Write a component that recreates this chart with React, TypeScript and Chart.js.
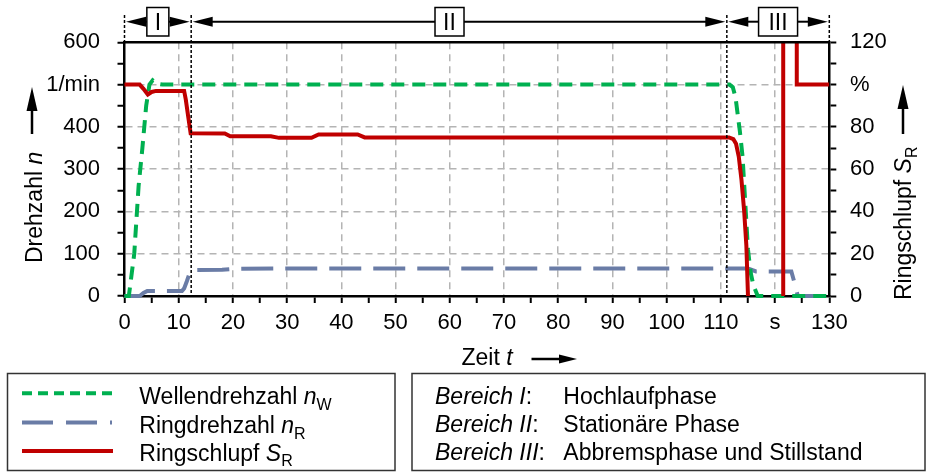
import { useEffect, useRef } from 'react';
import { Chart, registerables } from 'chart.js';

Chart.register(...registerables);

const FONT = "'Liberation Sans', Arial, sans-serif";

// ---- data ----
const greenT = [0, 0.8, 1.8, 2.6, 3.3, 4.0, 4.6, 5.2, 6.0, 7.0, 111.6, 112.2, 112.7, 113.1, 113.5, 114.0, 114.5, 115.0, 115.5, 116.0, 116.8, 130];
const greenV = [0, 0, 100, 260, 350, 450, 500, 510, 502, 500, 500, 494, 470, 430, 390, 330, 220, 110, 55, 25, 0, 0];

const blueT = [0, 2.8, 3.5, 4.2, 10.6, 11.0, 11.5, 11.9, 12.3, 18, 20, 30, 115, 116.5, 123.0, 123.5, 124.2, 130];
const blueV = [0, 0, 7, 12, 12, 18, 35, 50, 61, 62, 64, 65, 65, 58, 58, 35, 0, 0];

const redT = [0, 2.8, 3.5, 4.3, 5.0, 5.8, 11.0, 11.3, 11.8, 12.2, 18.5, 19.5, 27.0, 28.5, 34.5, 35.8, 43.0, 44.3, 111.5, 112.3, 112.8, 113.3, 113.8, 114.3, 114.7, 115.0, NaN, 121.5, 121.5, 124.0, 124.0, 130];
const redV = [100, 100, 98, 95.3, 96.5, 97, 97, 93, 84, 77, 76.9, 75.6, 75.6, 74.8, 74.8, 76.4, 76.4, 75, 75, 74.2, 72, 66, 55, 40, 24, 0, NaN, 0, 200, 200, 100, 100];

const regionBounds = [0, 12.3, 111.1, 130];
const regionLabels = ['I', 'II', 'III'];

const legendSeries = [
  { name: 'Wellendrehzahl ', sym: 'n', sub: 'W' },
  { name: 'Ringdrehzahl ', sym: 'n', sub: 'R' },
  { name: 'Ringschlupf ', sym: 'S', sub: 'R' },
];
const legendRegions = [
  { tag: 'Bereich I', text: 'Hochlaufphase' },
  { tag: 'Bereich II', text: 'Stationäre Phase' },
  { tag: 'Bereich III', text: 'Abbremsphase und Stillstand' },
];

const GREEN = '#00b050';
const BLUE = '#6a7ca6';
const RED = '#c00000';
const GRID = '#b4b4b4';

const pts = (t: number[], v: number[]) =>
  t.map((x, i) => (isNaN(x) ? { x: NaN, y: null } : { x, y: v[i] })) as any[];

type Part = { t: string; it?: boolean; sub?: boolean };
function rich(ctx: CanvasRenderingContext2D, x: number, y: number, parts: Part[], size: number) {
  let cx = x;
  for (const p of parts) {
    const s = p.sub ? Math.round(size * 0.7) : size;
    ctx.font = `${p.it ? 'italic ' : ''}${s}px ${FONT}`;
    ctx.fillText(p.t, cx, y + (p.sub ? size * 0.26 : 0));
    cx += ctx.measureText(p.t).width;
  }
  return cx;
}

function head(ctx: CanvasRenderingContext2D, tx: number, ty: number, dx: number, dy: number, len = 18, hw = 5) {
  const px = -dy, py = dx;
  ctx.beginPath();
  ctx.moveTo(tx, ty);
  ctx.lineTo(tx - dx * len + px * hw, ty - dy * len + py * hw);
  ctx.lineTo(tx - dx * len - px * hw, ty - dy * len - py * hw);
  ctx.closePath();
  ctx.fill();
}

function arrow(ctx: CanvasRenderingContext2D, x1: number, y1: number, x2: number, y2: number, len = 18, hw = 5) {
  const L = Math.hypot(x2 - x1, y2 - y1);
  const dx = (x2 - x1) / L, dy = (y2 - y1) / L;
  ctx.beginPath();
  ctx.moveTo(x1, y1);
  ctx.lineTo(x2 - dx * len * 0.8, y2 - dy * len * 0.8);
  ctx.stroke();
  head(ctx, x2, y2, dx, dy, len, hw);
}

const overlay = {
  id: 'overlay',
  afterDraw(chart: any) {
    const ctx: CanvasRenderingContext2D = chart.ctx;
    const xs = chart.scales.x;
    const ca = chart.chartArea;
    ctx.save();
    ctx.fillStyle = '#000';
    ctx.strokeStyle = '#000';

    // top frame
    ctx.lineWidth = 2.5;
    ctx.beginPath();
    ctx.moveTo(ca.left, ca.top);
    ctx.lineTo(ca.right, ca.top);
    ctx.stroke();

    // region boundary lines
    ctx.lineWidth = 1.5;
    ctx.setLineDash([3, 2]);
    regionBounds.forEach((b, i) => {
      const px = xs.getPixelForValue(b);
      const inner = i > 0 && i < regionBounds.length - 1;
      ctx.beginPath();
      ctx.moveTo(px, 15);
      ctx.lineTo(px, inner ? ca.bottom : ca.top);
      ctx.stroke();
    });
    ctx.setLineDash([]);

    // region arrows and boxes
    const ay = 21.7;
    const boxW = [22, 29, 39];
    const boxShift = [0, -9.5, 0];
    ctx.lineWidth = 2;
    regionLabels.forEach((lab, i) => {
      const L = xs.getPixelForValue(regionBounds[i]) + 1.5;
      const R = xs.getPixelForValue(regionBounds[i + 1]) - 1.5;
      const c = (L + R) / 2 + boxShift[i];
      const bl = c - boxW[i] / 2, br = c + boxW[i] / 2;
      arrow(ctx, bl, ay, L, ay, 20, 5);
      arrow(ctx, br, ay, R, ay, 20, 5);
      ctx.fillStyle = '#fff';
      ctx.fillRect(bl, 7.5, boxW[i], 28.5);
      ctx.lineWidth = 1.5;
      ctx.strokeRect(bl, 7.5, boxW[i], 28.5);
      ctx.lineWidth = 2;
      ctx.fillStyle = '#000';
      ctx.font = `23px ${FONT}`;
      ctx.textAlign = 'center';
      ctx.textBaseline = 'alphabetic';
      ctx.fillText(lab, c, 30);
    });
    ctx.textAlign = 'left';

    // left axis title
    ctx.save();
    ctx.translate(41.5, 263);
    ctx.rotate(-Math.PI / 2);
    rich(ctx, 0, 0, [{ t: 'Drehzahl ' }, { t: 'n', it: true }], 23);
    ctx.restore();
    ctx.lineWidth = 2.5;
    arrow(ctx, 32, 134, 32, 87, 24, 5.5);

    // right axis title
    ctx.save();
    ctx.translate(911, 300);
    ctx.rotate(-Math.PI / 2);
    rich(ctx, 0, 0, [{ t: 'Ringschlupf ' }, { t: 'S', it: true }, { t: 'R', sub: true }], 23);
    ctx.restore();
    arrow(ctx, 903, 134, 903, 85, 24, 5.5);

    // x title
    rich(ctx, 461.5, 365, [{ t: 'Zeit ' }, { t: 't', it: true }], 23);
    ctx.lineWidth = 2.5;
    arrow(ctx, 531.5, 359, 577, 359, 18, 4.5);

    // legend boxes
    ctx.lineWidth = 1.5;
    ctx.strokeStyle = '#333';
    ctx.strokeRect(7.5, 373.5, 387.5, 97);
    ctx.strokeRect(412, 373.5, 513, 97);

    // series legend
    const rowsY = [393.3, 422.5, 451];
    const baseY = [404, 432.7, 460.5];
    const styles = [
      { c: GREEN, d: [10, 6] },
      { c: BLUE, d: [31, 13, 31, 13, 2, 13] },
      { c: RED, d: [] as number[] },
    ];
    legendSeries.forEach((s, i) => {
      ctx.strokeStyle = styles[i].c;
      ctx.lineWidth = 4;
      ctx.setLineDash(styles[i].d);
      ctx.beginPath();
      ctx.moveTo(22, rowsY[i]);
      ctx.lineTo(113, rowsY[i]);
      ctx.stroke();
      ctx.setLineDash([]);
      ctx.fillStyle = '#000';
      rich(ctx, 139.3, baseY[i], [{ t: s.name }, { t: s.sym, it: true }, { t: s.sub, sub: true }], 23);
    });

    // region legend
    const rY = [403.5, 431.7, 459.5];
    legendRegions.forEach((r, i) => {
      rich(ctx, 435, rY[i], [{ t: r.tag, it: true }, { t: ':' }], 23);
      ctx.font = `23px ${FONT}`;
      ctx.fillText(r.text, 563.3, rY[i]);
    });

    ctx.restore();
  },
};

export default function App() {
  const ref = useRef<HTMLCanvasElement>(null);
  useEffect(() => {
    const tickFont = { family: FONT, size: 22 };
    const chart = new Chart(ref.current!, {
      type: 'line',
      data: {
        datasets: [
          {
            label: 'Ringschlupf',
            data: pts(redT, redV),
            yAxisID: 'y2',
            borderColor: RED,
            borderWidth: 4,
            pointRadius: 0,
            spanGaps: false,
            order: 0,
            clip: { left: 5, top: 0, right: 0, bottom: 5 } as any,
          },
          {
            label: 'Wellendrehzahl',
            data: pts(greenT, greenV),
            yAxisID: 'y',
            borderColor: GREEN,
            borderWidth: 4,
            borderDash: [13, 8],
            pointRadius: 0,
            order: 1,
            clip: 5 as any,
          },
          {
            label: 'Ringdrehzahl',
            data: pts(blueT, blueV),
            yAxisID: 'y',
            borderColor: BLUE,
            borderWidth: 4,
            borderDash: [32, 12],
            pointRadius: 0,
            order: 2,
            clip: 5 as any,
          },
        ],
      },
      options: {
        animation: false,
        responsive: false,
        devicePixelRatio: 1,
        layout: { padding: { top: 42.3, left: 0, right: 0, bottom: 0 } },
        plugins: { legend: { display: false }, tooltip: { enabled: false } },
        elements: { line: { tension: 0 } },
        scales: {
          x: {
            type: 'linear',
            min: 0,
            max: 130,
            afterFit: (s: any) => { s.height = 176; },
            ticks: {
              stepSize: 5,
              autoSkip: false,
              maxRotation: 0,
              padding: 7,
              color: '#000',
              font: tickFont,
              callback: (v: any) => (v % 10 === 0 ? (v === 120 ? 's' : String(v)) : ''),
            },
            grid: {
              color: (c: any) => (c.tick && c.tick.value % 10 === 0 && c.tick.value > 0 && c.tick.value < 130 ? GRID : 'rgba(0,0,0,0)'),
              lineWidth: 1.5,
              tickColor: '#000',
              tickLength: 7,
              tickWidth: 2,
            },
            border: { color: '#000', width: 2.5, dash: [7, 5] },
          },
          y: {
            type: 'linear',
            position: 'left',
            min: 0,
            max: 600,
            afterFit: (s: any) => { s.width = 124.5; },
            ticks: {
              stepSize: 50,
              autoSkip: false,
              padding: 17.5,
              color: '#000',
              font: tickFont,
              callback: (v: any) => (v % 100 === 0 ? (v === 500 ? '1/min' : String(v)) : ''),
            },
            grid: {
              color: (c: any) => (c.tick && c.tick.value % 100 === 0 && c.tick.value > 0 && c.tick.value < 600 ? GRID : 'rgba(0,0,0,0)'),
              lineWidth: 1.5,
              tickColor: '#000',
              tickLength: 7,
              tickWidth: 2,
            },
            border: { color: '#000', width: 2.5, dash: [7, 5] },
          },
          y2: {
            type: 'linear',
            position: 'right',
            min: 0,
            max: 120,
            afterFit: (s: any) => { s.width = 103.7; },
            ticks: {
              stepSize: 10,
              autoSkip: false,
              padding: 13.7,
              color: '#000',
              font: tickFont,
              callback: (v: any) => (v % 20 === 0 ? (v === 100 ? '%' : String(v)) : ''),
            },
            grid: {
              drawOnChartArea: false,
              tickColor: '#000',
              tickLength: 7,
              tickWidth: 2,
            },
            border: { color: '#000', width: 2.5 },
          },
        },
      },
      plugins: [overlay as any],
    });
    return () => chart.destroy();
  }, []);
  return (
    <div style={{ position: 'fixed', left: 0, top: 0, width: 933, height: 472, background: '#fff' }}>
      <canvas ref={ref} width={933} height={472} style={{ display: 'block', width: 933, height: 472 }} />
    </div>
  );
}
